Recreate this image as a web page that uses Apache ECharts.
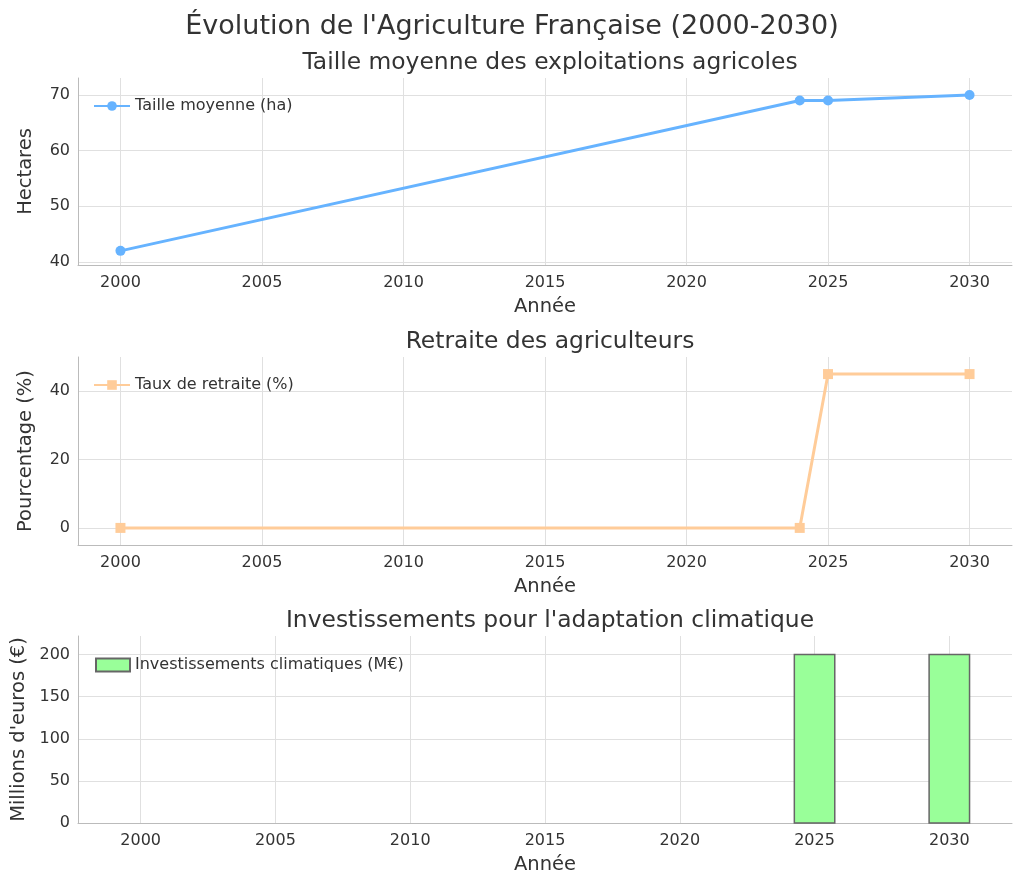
<!DOCTYPE html><html><head><meta charset="utf-8"><script src="https://cdn.jsdelivr.net/npm/echarts@6/dist/echarts.min.js"></script></head><body style="margin:0"><div id="c" style="width:1024px;height:885px"></div><script>
const yearTicks=[2000,2005,2010,2015,2020,2025,2030];
const lineYears=[2000,2024,2025,2030];
const taille=[42,69,69,70];
const retraite=[0,0,45,45];
const barYears=[2000,2024,2025,2030];
const invest=[0,0,200,200];
const F='DejaVu Sans',C='#333';
const ch=echarts.init(document.getElementById('c'));
function xa(i,min,max){return{type:'value',gridIndex:i,min:min,max:max,name:'Année',nameLocation:'middle',nameGap:32,nameTextStyle:{fontSize:19.5,color:C,fontFamily:F},
axisLine:{onZero:false,lineStyle:{color:'#bbb'}},axisTick:{show:false,customValues:yearTicks},axisLabel:{customValues:yearTicks,formatter:v=>String(v),fontSize:16,color:C,fontFamily:F,margin:10},splitLine:{show:true,lineStyle:{color:'#e0e0e0'}}};}
function ya(i,min,max,name,ticks){return{type:'value',gridIndex:i,min:min,max:max,name:name,nameLocation:'middle',nameGap:42,nameTextStyle:{fontSize:19.5,color:C,fontFamily:F},
axisLine:{show:true,lineStyle:{color:'#bbb'}},axisTick:{show:false,customValues:ticks},axisLabel:{fontSize:16,color:C,fontFamily:F,customValues:ticks},splitLine:{lineStyle:{color:'#e0e0e0'}}};}
const y0=ya(0,39.46,73.05,'Hectares',[40,50,60,70]);
const y1=ya(1,-5,50,'Pourcentage (%)',[0,20,40]);
const y2=ya(2,0,222,"Millions d'euros (€)",[0,50,100,150,200]);
const lt={fontSize:16,color:C,fontFamily:F};
ch.setOption({animation:false,backgroundColor:'#fff',
title:[{text:"Évolution de l'Agriculture Française (2000-2030)",left:'center',top:8,textStyle:{fontSize:27,fontWeight:'normal',color:C,fontFamily:F}},
{text:'Taille moyenne des exploitations agricoles',left:545,textAlign:'center',top:46,textStyle:{fontSize:23.4,fontWeight:'normal',color:C,fontFamily:F}},
{text:'Retraite des agriculteurs',left:545,textAlign:'center',top:325,textStyle:{fontSize:23.4,fontWeight:'normal',color:C,fontFamily:F}},
{text:"Investissements pour l'adaptation climatique",left:545,textAlign:'center',top:604,textStyle:{fontSize:23.4,fontWeight:'normal',color:C,fontFamily:F}}],
grid:[{left:78,right:12,top:78,height:187},{left:78,right:12,top:357,height:188},{left:78,right:12,top:636,height:187}],
xAxis:[xa(0,1998.5,2031.5),xa(1,1998.5,2031.5),xa(2,1997.675,2032.325)],
yAxis:[y0,y1,y2],
legend:[{data:['Taille moyenne (ha)'],left:88,top:93,itemWidth:36,itemHeight:12,textStyle:lt},
{data:['Taux de retraite (%)'],left:88,top:372,itemWidth:36,itemHeight:12,textStyle:lt},
{data:[{name:'Investissements climatiques (M€)',icon:'rect'}],left:90,top:652,itemWidth:34,itemHeight:13,textStyle:lt}],
series:[{name:'Taille moyenne (ha)',type:'line',xAxisIndex:0,yAxisIndex:0,data:lineYears.map((y,i)=>[y,taille[i]]),symbol:'circle',symbolSize:10,color:'#66b3ff',lineStyle:{width:3}},
{name:'Taux de retraite (%)',type:'line',xAxisIndex:1,yAxisIndex:1,data:lineYears.map((y,i)=>[y,retraite[i]]),symbol:'rect',symbolSize:10,color:'#ffcc99',lineStyle:{width:3}},
{name:'Investissements climatiques (M€)',type:'custom',xAxisIndex:2,yAxisIndex:2,data:barYears.map((y,i)=>[y,invest[i]]),itemStyle:{color:'#99ff99',borderColor:'#666',borderWidth:1.5},
renderItem:(p,api)=>{const a=api.coord([api.value(0)-0.75,api.value(1)]),b=api.coord([api.value(0)+0.75,0]);
if(api.value(1)<=0)return null;return{type:'rect',shape:{x:a[0],y:a[1],width:b[0]-a[0],height:b[1]-a[1]},style:{fill:'#99ff99',stroke:'#666',lineWidth:1.5}};}}]
});
</script></body></html>
